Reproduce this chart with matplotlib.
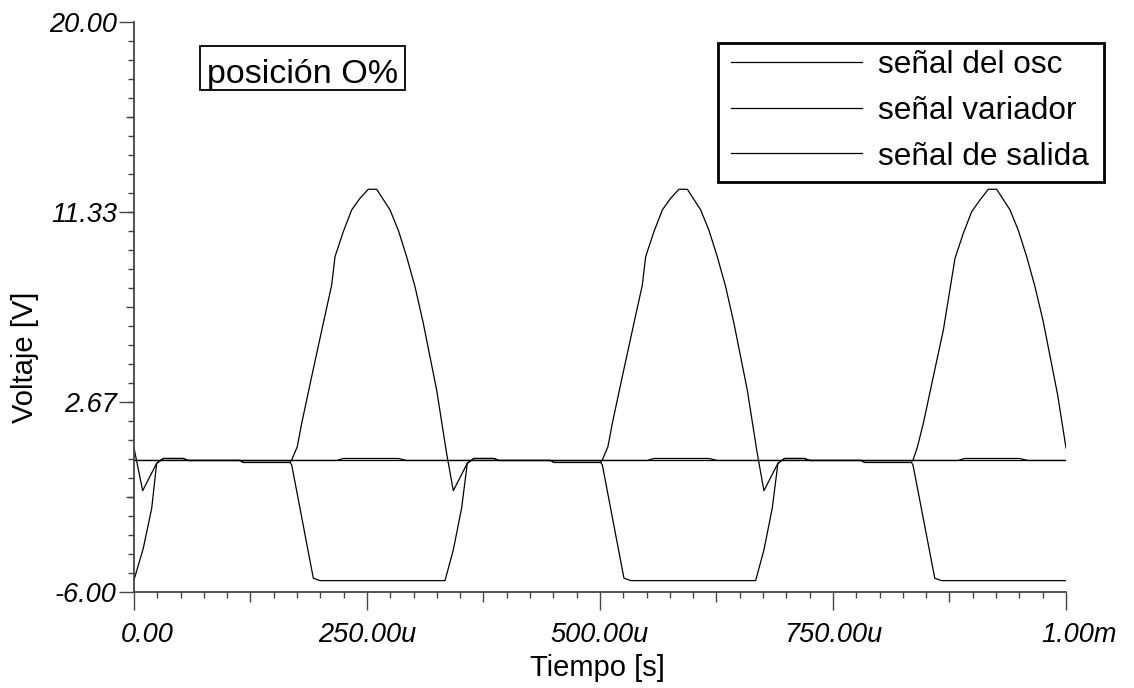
import matplotlib
matplotlib.use("Agg")
import matplotlib.pyplot as plt
from matplotlib.ticker import FixedLocator
from matplotlib.patches import Rectangle
from matplotlib.transforms import ScaledTranslation
import numpy as np

plt.rcParams['font.family'] = ['Liberation Sans', 'DejaVu Sans']

# tiempo en microsegundos
t_salida = [0, 9.3, 24.3, 31.4, 52.9, 58.3, 113.7, 117.3, 167.4, 169.5, 175.2, 179.9, 190.6, 203.1,
            212.1, 215.7, 224.6, 233.6, 242.5, 251.4, 260.4, 274.7, 283.6, 292.5, 301.5, 310.4,
            324.7, 335.4, 342.6, 357.6, 364.7, 386.2, 391.6, 447.0, 450.6, 500.7, 502.8, 508.5,
            513.2, 523.9, 536.4, 545.4, 549.0, 557.9, 566.9, 575.8, 584.7, 593.7, 608.0, 616.9,
            625.8, 634.8, 643.7, 658.0, 668.7, 675.9, 690.9, 698.0, 719.5, 724.9, 780.3, 783.9,
            834.0, 836.1, 840.5, 846.9, 857.6, 868.4, 880.9, 889.8, 898.8, 907.7, 916.6, 925.6,
            939.9, 948.8, 957.8, 966.7, 975.6, 991.0, 1000]
v_salida = [0.57, -1.38, -0.13, 0.09, 0.09, 0.0, 0.0, -0.09, -0.09, 0.05, 0.63, 1.69, 3.82, 6.26,
            8.0, 9.3, 10.44, 11.43, 11.96, 12.37, 12.37, 11.43, 10.5, 9.3, 7.93, 6.26,
            3.22, 0.33, -1.38, -0.13, 0.09, 0.09, 0.0, 0.0, -0.09, -0.09, 0.05, 0.63,
            1.69, 3.82, 6.26, 8.0, 9.3, 10.44, 11.43, 11.96, 12.37, 12.37, 11.43, 10.5,
            9.3, 7.93, 6.26, 3.22, 0.33, -1.38, -0.13, 0.09, 0.09, 0.0, 0.0, -0.09,
            -0.09, 0.05, 0.6, 1.69, 3.82, 5.95, 9.22, 10.36, 11.35, 11.88, 12.37, 12.37,
            11.43, 10.5, 9.3, 7.93, 6.33, 3.0, 0.57]

t_variador = [0, 10.0, 19.0, 24.3, 31.4, 52.9, 58.3, 113.7, 117.3, 167.4, 169.2, 192.4, 199.6,
              333.7, 342.6, 351.5, 357.6, 364.7, 386.2, 391.6, 447.0, 450.6, 500.7, 502.5,
              525.7, 532.9, 667.0, 675.9, 684.8, 690.9, 698.0, 719.5, 724.9, 780.3, 783.9,
              834.0, 835.8, 859.2, 866.4, 1000]
v_variador = [-5.45, -4.0, -2.18, -0.13, 0.09, 0.09, 0.0, 0.0, -0.09, -0.09, -0.2, -5.37, -5.48,
              -5.48, -4.08, -2.18, -0.13, 0.09, 0.09, 0.0, 0.0, -0.09, -0.09, -0.2,
              -5.37, -5.48, -5.48, -4.08, -2.18, -0.13, 0.09, 0.09, 0.0, 0.0, -0.09,
              -0.09, -0.2, -5.37, -5.48, -5.48]

t_osc = [0, 217.5, 224.6, 283.6, 292.5, 550.8, 557.9, 616.9, 625.8, 884.1, 891.2, 950.2, 959.1, 1000]
v_osc = [0, 0, 0.09, 0.09, 0, 0, 0.09, 0.09, 0, 0, 0.09, 0.09, 0, 0]

xticks = [0, 125, 250, 375, 500, 625, 750, 875, 1000]
xlabels = ["0.00", "", "250.00u", "", "500.00u", "", "750.00u", "", "1.00m"]
yticks = [-6.0, -1.667, 2.667, 7.0, 11.333, 15.667, 20.0]
ylabels = ["-6.00", "", "2.67", "", "11.33", "", "20.00"]

W, H = 1134, 688
fig = plt.figure(figsize=(W / 100, H / 100), dpi=100)
ax = fig.add_axes([134 / W, 96 / H, 932 / W, 570 / H])

ax.plot(t_osc, v_osc, color='black', lw=0.9, label="señal del osc")
ax.plot(t_variador, v_variador, color='black', lw=0.9, label="señal variador")
ax.plot(t_salida, v_salida, color='black', lw=0.9, label="señal de salida")
ax.axhline(0, color='black', lw=0.9)

ax.set_xlim(0, 1000)
ax.set_ylim(-6, 20)
for s in ['top', 'right']:
    ax.spines[s].set_visible(False)
for s in ['left', 'bottom']:
    ax.spines[s].set_color('#444444')
    ax.spines[s].set_linewidth(1.3)

ax.xaxis.set_major_locator(FixedLocator(xticks))
ax.xaxis.set_minor_locator(FixedLocator(np.linspace(0, 1000, 41)))
ax.yaxis.set_major_locator(FixedLocator(yticks))
ax.yaxis.set_minor_locator(FixedLocator(np.linspace(-6, 20, 31)))
ax.set_xticklabels(xlabels, fontstyle='italic', fontsize=19.5)
ax.set_yticklabels(ylabels, fontstyle='italic', fontsize=19.5)
ax.tick_params(which='minor', direction='out', length=4, width=1.0, color='#444444')
ax.tick_params(axis='x', which='major', direction='out', length=13, width=1.0, color='#444444', pad=8.8)
ax.tick_params(axis='y', which='major', direction='out', length=11, width=1.0, color='#444444', pad=1.3)

# marcas intermedias mas cortas
for i, tk in enumerate(ax.xaxis.get_major_ticks()):
    if xlabels[i] == "":
        tk.tick1line.set_markersize(7)
for i, tk in enumerate(ax.yaxis.get_major_ticks()):
    if ylabels[i] == "":
        tk.tick1line.set_markersize(6)

labs = ax.get_xticklabels()
shift = ScaledTranslation(13 / 100, 0, fig.dpi_scale_trans)
for lb in (labs[0], labs[-1]):
    lb.set_transform(lb.get_transform() + shift)

ax.set_xlabel("Tiempo [s]", fontsize=21)
ax.xaxis.set_label_coords(0.497, -76 / 570)
ax.xaxis.label.set_va('center')
ax.set_ylabel("Voltaje [V]", fontsize=21)
ax.yaxis.set_label_coords(-109 / 932, 235 / 570)
ax.yaxis.label.set_va('center')

# recuadro del texto
fig.patches.append(Rectangle((200 / W, 1 - 90 / H), 205 / W, 44 / H, transform=fig.transFigure,
                             fill=False, ec='black', lw=1.3))
fig.text(302.5 / W, 1 - 83.5 / H, "posición O%", fontsize=24.5, ha='center', va='baseline')

leg = ax.legend(loc='upper left', bbox_to_anchor=(731 / W, 1 - 50 / H),
                bbox_transform=fig.transFigure, fontsize=22.7, handlelength=4.16,
                handletextpad=0.5, labelspacing=0.5, borderpad=0, borderaxespad=0,
                frameon=False)
for ln in leg.get_lines():
    ln.set_linewidth(0.9)
fig.patches.append(Rectangle((718 / W, 1 - 182 / H), 386 / W, 139 / H, transform=fig.transFigure,
                             fill=False, ec='black', lw=2))

fig.savefig('out.png', dpi=100)
